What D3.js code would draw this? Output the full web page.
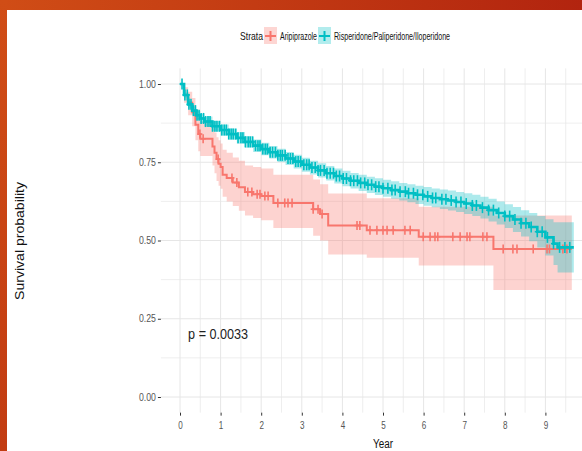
<!DOCTYPE html>
<html><head><meta charset="utf-8">
<script src="https://cdn.jsdelivr.net/npm/d3@7"></script>
<style>html,body{margin:0;padding:0;background:#fff;}svg{display:block;}</style>
</head><body><svg id="c" width="582" height="451"></svg>
<script>
// ---------- data ----------
const strataNames = ["Aripiprazole", "Risperidone/Paliperidone/Iloperidone"];
const xTicks = [0,1,2,3,4,5,6,7,8,9];
const yTicks = [0, 0.25, 0.5, 0.75, 1];
const yTickLabels = ["0.00","0.25","0.50","0.75","1.00"];
const pValueText = "p = 0.0033";

// Aripiprazole (step curve)
const ariTime  = [0,0.1,0.2,0.3,0.38,0.45,0.5,0.8,0.85,0.9,0.95,1.0,1.05,1.15,1.3,1.45,1.6,1.8,2.0,2.3,3.28,3.45,3.65,4.6,5.88,7.72,9.65];
const ariSurv  = [1.0,0.965,0.94,0.91,0.87,0.84,0.825,0.80,0.78,0.76,0.745,0.735,0.71,0.70,0.685,0.67,0.655,0.648,0.642,0.62,0.60,0.585,0.548,0.533,0.512,0.473,0.473];
const ariLower = [1.0,0.94,0.90,0.865,0.82,0.785,0.77,0.74,0.715,0.69,0.675,0.665,0.64,0.625,0.61,0.595,0.58,0.572,0.565,0.54,0.515,0.50,0.455,0.445,0.42,0.342,0.342];
const ariUpper = [1.0,0.99,0.975,0.955,0.92,0.895,0.88,0.86,0.845,0.83,0.82,0.81,0.79,0.78,0.765,0.755,0.74,0.735,0.73,0.71,0.695,0.68,0.65,0.635,0.608,0.58,0.58];
const ariCensor = [0.49,0.57,0.94,1.28,1.4,1.67,1.77,1.9,1.97,2.09,2.17,2.41,2.58,2.66,2.76,3.28,3.4,3.5,4.36,4.43,4.68,4.85,5.0,5.1,5.25,5.54,5.67,5.99,6.16,6.28,6.35,6.72,6.9,7.07,7.14,7.46,7.56,7.96,8.2,8.3,8.7,9.04,9.1,9.43,9.53];

// Risperidone/Paliperidone/Iloperidone
const risTime  = [0,0.1,0.2,0.3,0.4,0.5,0.6,0.8,1.0,1.2,1.4,1.6,1.8,2.0,2.2,2.4,2.6,2.8,3.0,3.2,3.4,3.6,3.8,4.0,4.2,4.4,4.6,4.8,5.0,5.2,5.4,5.6,5.8,6.0,6.2,6.4,6.6,6.8,7.0,7.2,7.4,7.6,7.8,8.0,8.2,8.4,8.6,8.8,9.0,9.2,9.3,9.7];
const risSurv  = [1.0,0.965,0.935,0.915,0.9,0.89,0.88,0.865,0.853,0.84,0.828,0.815,0.803,0.792,0.782,0.772,0.762,0.752,0.742,0.733,0.724,0.715,0.706,0.698,0.691,0.684,0.678,0.672,0.667,0.661,0.656,0.651,0.646,0.641,0.636,0.632,0.628,0.623,0.618,0.612,0.605,0.597,0.588,0.578,0.567,0.555,0.543,0.528,0.51,0.49,0.478,0.478];
const risUpper = [1.0,0.973,0.946,0.928,0.914,0.905,0.896,0.882,0.871,0.858,0.847,0.834,0.823,0.812,0.802,0.793,0.783,0.774,0.764,0.755,0.747,0.738,0.730,0.723,0.716,0.710,0.704,0.699,0.694,0.689,0.684,0.680,0.675,0.671,0.666,0.663,0.660,0.655,0.651,0.646,0.640,0.633,0.625,0.616,0.607,0.597,0.588,0.578,0.568,0.558,0.558,0.558];
const risLower = [1.0,0.957,0.924,0.902,0.886,0.875,0.864,0.848,0.835,0.822,0.809,0.796,0.783,0.772,0.762,0.751,0.741,0.730,0.720,0.711,0.701,0.692,0.682,0.673,0.666,0.658,0.652,0.645,0.640,0.633,0.628,0.622,0.617,0.611,0.606,0.601,0.596,0.591,0.585,0.578,0.570,0.561,0.551,0.540,0.527,0.513,0.498,0.478,0.452,0.422,0.398,0.398];
const risCensor = [0.05,0.12,0.18,0.22,0.27,0.33,0.38,0.42,0.47,0.52,0.58,0.63,0.69,0.74,0.8,0.86,0.91,0.97,1.03,1.09,1.14,1.2,1.26,1.31,1.37,1.43,1.5,1.55,1.61,1.68,1.73,1.79,1.86,1.92,1.97,2.04,2.1,2.15,2.22,2.28,2.35,2.41,2.47,2.52,2.59,2.66,2.72,2.78,2.85,2.91,2.97,3.05,3.12,3.18,3.25,3.33,3.4,3.46,3.55,3.62,3.7,3.78,3.85,3.93,4.02,4.1,4.2,4.28,4.37,4.45,4.55,4.63,4.72,4.82,4.9,5.0,5.12,5.22,5.3,5.42,5.55,5.63,5.75,5.85,5.98,6.1,6.22,6.3,6.45,6.55,6.68,6.8,6.92,7.05,7.2,7.3,7.45,7.6,7.72,7.85,8.0,8.12,8.25,8.4,8.52,8.65,8.8,8.92,9.05,9.2,9.35,9.48,9.6];

const colors = ["#F8766D", "#00BFC4"];

// ---------- drawing ----------
const svg = d3.select("#c");
const W = 582, H = 451;
const font = "Liberation Sans, Arial, sans-serif";

// frame
const defs = svg.append("defs");
const g1 = defs.append("linearGradient").attr("id","topg").attr("x1","0").attr("x2","1").attr("y1","0").attr("y2","0");
g1.append("stop").attr("offset","0").attr("stop-color","#d04d16");
g1.append("stop").attr("offset","1").attr("stop-color","#b2240f");
const g2 = defs.append("linearGradient").attr("id","leftg").attr("x1","0").attr("x2","0").attr("y1","0").attr("y2","1");
g2.append("stop").attr("offset","0").attr("stop-color","#d04d16");
g2.append("stop").attr("offset","1").attr("stop-color","#c23c12");
svg.append("rect").attr("x",0).attr("y",0).attr("width",W).attr("height",H).attr("fill","#fff");
svg.append("rect").attr("x",0).attr("y",0).attr("width",W).attr("height",10).attr("fill","url(#topg)");
svg.append("rect").attr("x",0).attr("y",0).attr("width",7).attr("height",H).attr("fill","url(#leftg)");

const x = d3.scaleLinear().domain([0,10]).range([180, 586]);
const y = d3.scaleLinear().domain([0,1]).range([397, 84]);
const px0 = x(-0.47), px1 = W, py0 = y(1.05), py1 = y(-0.05);

// grid
const grid = svg.append("g");
const minorY = [0.125,0.375,0.625,0.875];
const minorX = [-0.5,0.5,1.5,2.5,3.5,4.5,5.5,6.5,7.5,8.5,9.5];
grid.selectAll(".gy").data(yTicks.concat(minorY)).join("line")
  .attr("x1",px0).attr("x2",px1).attr("y1",d=>y(d)).attr("y2",d=>y(d))
  .attr("stroke","#e6e6e6").attr("stroke-width",d=>yTicks.includes(d)?1:0.7);
grid.selectAll(".gx").data(xTicks.concat(minorX).filter(d=>x(d)>=px0)).join("line")
  .attr("x1",d=>x(d)).attr("x2",d=>x(d)).attr("y1",py0).attr("y2",py1)
  .attr("stroke","#e6e6e6").attr("stroke-width",d=>xTicks.includes(d)?1:0.7);

// axes
const yAxis = svg.append("g").attr("transform",`translate(${px0},0)`)
  .call(d3.axisLeft(y).tickValues(yTicks).tickSize(3).tickFormat((d,i)=>yTickLabels[i]));
yAxis.select(".domain").remove();
yAxis.selectAll(".tick line").attr("stroke","#333");
yAxis.selectAll("text").attr("font-family",font).attr("font-size",10).attr("fill","#555")
  .attr("x",-5).attr("textLength",17).attr("lengthAdjust","spacingAndGlyphs");

const xAxis = svg.append("g").attr("transform",`translate(0,${py1})`)
  .call(d3.axisBottom(x).tickValues(xTicks).tickSize(3).tickFormat(d3.format("d")));
xAxis.select(".domain").remove();
xAxis.selectAll(".tick line").attr("stroke","#333");
xAxis.selectAll("text").attr("font-family",font).attr("font-size",10).attr("fill","#555")
  .attr("y",9).attr("textLength",4.5).attr("lengthAdjust","spacingAndGlyphs");

// series
const series = [
  {time: ariTime, surv: ariSurv, lo: ariLower, hi: ariUpper, cens: ariCensor, color: colors[0], lw: 2, th: 4.5},
  {time: risTime, surv: risSurv, lo: risLower, hi: risUpper, cens: risCensor, color: colors[1], lw: 2.6, th: 5.5}
];
const area = d3.area().curve(d3.curveStepAfter).x(d=>x(d.t)).y0(d=>y(d.lo)).y1(d=>y(d.hi));
const line = d3.line().curve(d3.curveStepAfter).x(d=>x(d.t)).y(d=>y(d.s));
series.forEach(s=>{
  s.pts = s.time.map((t,i)=>({t, s:s.surv[i], lo:s.lo[i], hi:s.hi[i]}));
});
series.forEach(s=>{
  svg.append("path").attr("d",area(s.pts)).attr("fill",s.color).attr("fill-opacity",0.32);
});
const bis = d3.bisector(d=>d).right;
series.forEach(s=>{
  svg.append("path").attr("d",line(s.pts)).attr("fill","none").attr("stroke",s.color).attr("stroke-width",s.lw);
  const cg = svg.append("g").attr("stroke",s.color).attr("stroke-width",1.6);
  s.cens.forEach(t=>{
    const i = Math.max(0, bis(s.time, t)-1);
    const cx = x(t), cy = y(s.surv[i]);
    cg.append("line").attr("x1",cx).attr("x2",cx).attr("y1",cy-s.th).attr("y2",cy+s.th);
    cg.append("line").attr("x1",cx-2.5).attr("x2",cx+2.5).attr("y1",cy).attr("y2",cy);
  });
});

// p-value
svg.append("text").attr("x",x(0.2)).attr("y",y(0.185)).text(pValueText)
  .attr("font-family",font).attr("font-size",15).attr("fill","#222")
  .attr("textLength",60).attr("lengthAdjust","spacingAndGlyphs");

// axis titles
svg.append("text").attr("x",383).attr("y",448).attr("text-anchor","middle").text("Year")
  .attr("font-family",font).attr("font-size",12).attr("fill","#111")
  .attr("textLength",20).attr("lengthAdjust","spacingAndGlyphs");
svg.append("text").attr("transform","translate(24,241) rotate(-90)").attr("text-anchor","middle")
  .text("Survival probability").attr("font-family",font).attr("font-size",12).attr("fill","#111")
  .attr("textLength",118).attr("lengthAdjust","spacingAndGlyphs");

// legend
const lg = svg.append("g");
lg.append("text").attr("x",240).attr("y",40).text("Strata").attr("font-family",font).attr("font-size",11)
  .attr("fill","#111").attr("textLength",23).attr("lengthAdjust","spacingAndGlyphs");
const legItems = [
  {name: strataNames[0], kx: 264, tx: 280, tl: 37, color: colors[0]},
  {name: strataNames[1], kx: 318, tx: 334, tl: 116, color: colors[1]}
];
legItems.forEach(it=>{
  lg.append("rect").attr("x",it.kx).attr("y",27).attr("width",13).attr("height",17)
    .attr("fill",it.color).attr("fill-opacity",0.3);
  lg.append("line").attr("x1",it.kx+1).attr("x2",it.kx+12).attr("y1",36).attr("y2",36).attr("stroke",it.color).attr("stroke-width",2);
  lg.append("line").attr("x1",it.kx+6.5).attr("x2",it.kx+6.5).attr("y1",31).attr("y2",41).attr("stroke",it.color).attr("stroke-width",2);
  lg.append("text").attr("x",it.tx).attr("y",40).text(it.name).attr("font-family",font).attr("font-size",11)
    .attr("fill","#111").attr("textLength",it.tl).attr("lengthAdjust","spacingAndGlyphs");
});
</script></body></html>
